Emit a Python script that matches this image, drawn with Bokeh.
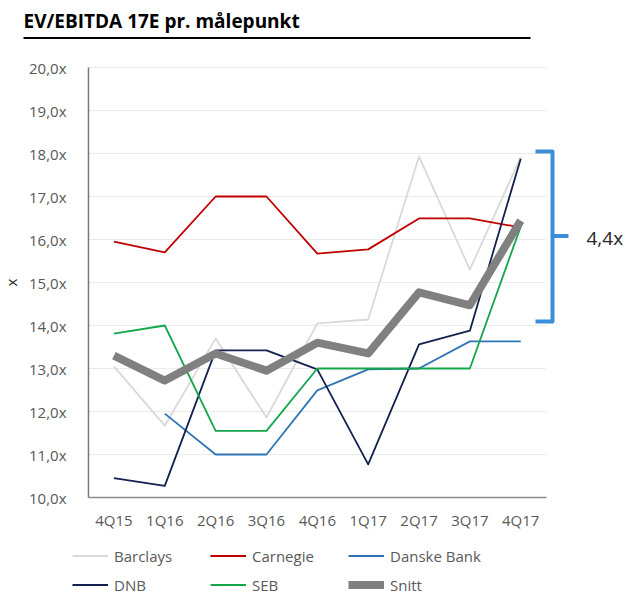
import math
from bokeh.plotting import figure
from bokeh.models import Range1d, FixedTicker, Legend, LegendItem, Label
from bokeh.embed import file_html
from bokeh.resources import INLINE

# ---------------- data ----------------
quarters = ["4Q15", "1Q16", "2Q16", "3Q16", "4Q16", "1Q17", "2Q17", "3Q17", "4Q17"]
barclays = [13.05, 11.67, 13.70, 11.86, 14.05, 14.14, 17.93, 15.30, 17.92]
carnegie = [15.95, 15.70, 17.00, 17.00, 15.67, 15.77, 16.49, 16.49, 16.28]
danske = [float("nan"), 11.95, 11.00, 11.00, 12.49, 12.98, 13.00, 13.63, 13.63]
dnb = [10.45, 10.27, 13.42, 13.42, 12.98, 10.77, 13.56, 13.88, 17.88]
seb = [13.81, 14.00, 11.55, 11.55, 13.00, 13.00, 13.00, 13.00, 16.30]
snitt = [13.30, 12.72, 13.35, 12.95, 13.60, 13.35, 14.77, 14.47, 16.44]

y_ticks = [10, 11, 12, 13, 14, 15, 16, 17, 18, 19, 20]
y_labels = ["10,0x", "11,0x", "12,0x", "13,0x", "14,0x", "15,0x",
            "16,0x", "17,0x", "18,0x", "19,0x", "20,0x"]
title_text = "EV/EBITDA 17E pr. målepunkt"
spread_text = "4,4x"

# ---------------- layout helpers (page pixels -> data) ----------------
W, H = 630, 596
PX = 50.85   # px per category
PY = 43.0    # px per y unit
X0_PAGE = 88   # page x of left edge of first category band (x = -0.5)
Y20_PAGE = 67  # page y of y = 20


def dx(page_x):
    return -0.5 + (page_x - X0_PAGE) / PX


def dy(page_y):
    return 20 - (page_y - Y20_PAGE) / PY


FONT = "Open Sans"
LABEL_GREY = "#595959"

p = figure(width=W, height=H, output_backend="svg", toolbar_location=None,
           x_range=Range1d(dx(0), dx(W)), y_range=Range1d(dy(H), dy(0)),
           min_border=0, min_border_left=0, min_border_right=0,
           min_border_top=0, min_border_bottom=0)
p.outline_line_color = None
p.xgrid.visible = False
p.ygrid.visible = False
p.background_fill_color = "white"
p.border_fill_color = "white"

xs = list(range(len(quarters)))
n_last = len(quarters) - 0.5

# manual horizontal gridlines limited to the category area
grid_vals = y_ticks[1:]
p.segment(x0=[-0.5] * len(grid_vals), y0=grid_vals, x1=[n_last] * len(grid_vals), y1=grid_vals,
          line_color="#ebebeb", line_width=1)

# ---------------- axes ----------------
xa = p.xaxis[0]
xa.fixed_location = y_ticks[0]
xa.bounds = (-0.5, n_last)
xa.ticker = FixedTicker(ticks=xs)
xa.major_label_overrides = {i: q for i, q in enumerate(quarters)}
xa.major_tick_line_color = None
xa.minor_tick_line_color = None
xa.axis_line_color = "#8c8c8c"
xa.axis_line_width = 1.5
xa.major_label_standoff = 6
xa.major_label_text_font = FONT
xa.major_label_text_font_size = "15px"
xa.major_label_text_color = LABEL_GREY

ya = p.yaxis[0]
ya.fixed_location = -0.5
ya.bounds = (y_ticks[0], y_ticks[-1])
ya.ticker = FixedTicker(ticks=y_ticks)
ya.major_label_overrides = {t: l for t, l in zip(y_ticks, y_labels)}
ya.major_tick_line_color = None
ya.minor_tick_line_color = None
ya.axis_line_color = "#7a7a7a"
ya.axis_line_width = 1.5
ya.major_label_standoff = 16
ya.major_label_text_font = FONT
ya.major_label_text_font_size = "15px"
ya.major_label_text_color = LABEL_GREY
ya.axis_label = "x"
ya.axis_label_text_font = FONT
ya.axis_label_text_font_size = "15px"
ya.axis_label_text_font_style = "normal"
ya.axis_label_text_color = "#262626"
ya.axis_label_standoff = 5

# ---------------- series ----------------
series = [
    ("Barclays", barclays, "#d9d9d9", 1.8),
    ("Carnegie", carnegie, "#c00000", 1.8),
    ("Danske Bank", danske, "#2e75b6", 1.8),
    ("DNB", dnb, "#14204f", 1.8),
    ("SEB", seb, "#14a64b", 1.8),
    ("Snitt", snitt, "#808080", 8),
]
items = []
for name, vals, color, lw in series:
    r = p.line(xs, vals, line_color=color, line_width=lw, line_join="round")
    items.append(LegendItem(label=name, renderers=[r]))

legend = Legend(items=items, orientation="horizontal", ncols=3,
                location=(72, -3), glyph_width=36, glyph_height=29,
                label_height=29, label_width=96, label_standoff=6,
                spacing=0, padding=0, margin=0,
                border_line_color=None, background_fill_alpha=0,
                label_text_font=FONT, label_text_font_size="15px",
                label_text_color=LABEL_GREY)
p.add_layout(legend)

# ---------------- title with underline ----------------
p.add_layout(Label(x=dx(23), y=dy(20), text=title_text, text_font=FONT,
                   text_font_size="19px", text_font_style="bold",
                   text_color="black", text_baseline="middle", text_align="left"))
p.line([dx(23), dx(530)], [dy(37.5), dy(37.5)], line_color="black", line_width=2)

# ---------------- bracket with spread label ----------------
BR = "#3a8fd8"
p.line([dx(535), dx(552), dx(552), dx(535)], [dy(151), dy(151), dy(321), dy(321)],
       line_color=BR, line_width=4, line_join="round")
p.line([dx(552), dx(568)], [dy(235.5), dy(235.5)], line_color=BR, line_width=4)
p.add_layout(Label(x=dx(586), y=dy(237), text=spread_text, text_font=FONT,
                   text_font_size="19px", text_color="#262626",
                   text_baseline="middle", text_align="left"))

open("out.html", "w").write(file_html(p, INLINE))
